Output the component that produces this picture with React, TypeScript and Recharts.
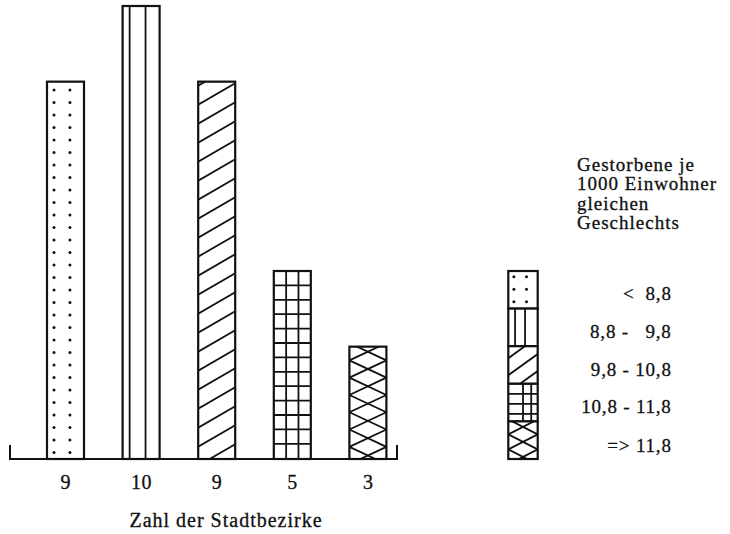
import React from 'react';
import { BarChart, Bar, XAxis, YAxis, Legend, Customized } from 'recharts';

// ---- data ----
const districtCounts = ['9', '10', '9', '5', '3'];
const barHeights = [8.33, 10, 8.33, 4.15, 2.48];
const classPatterns = ['dots', 'vertical', 'diagonal', 'grid', 'cross'];
const classLabels = ['<  8,8', '8,8 -   9,8', '9,8 - 10,8', '10,8 - 11,8', '=> 11,8'];
const titleLines = ['Gestorbene je', '1000 Einwohner', 'gleichen', 'Geschlechts'];
const axisTitle = 'Zahl der Stadtbezirke';

const data = districtCounts.map((c, i) => ({ key: `c${i}`, count: c, value: barHeights[i], pattern: classPatterns[i] }));

const FONT = '"Liberation Serif", "DejaVu Serif", serif';
const INK = '#111';
const TEXT_STROKE = { stroke: INK, strokeWidth: 0.3 };

function patternMarks(kind: string, x: number, y: number, w: number, h: number, small: boolean) {
  const els: React.ReactNode[] = [];
  const sw = 1.8;
  if (kind === 'dots') {
    const step = 12.5;
    const cols = [x + w * 0.19, x + w * 0.62];
    for (let yy = y + (small ? 5.7 : 8.3); yy < y + h - 2; yy += step) {
      cols.forEach((cx, j) => els.push(<circle key={`d${yy}-${j}`} cx={cx} cy={yy} r={1.5} fill={INK} />));
    }
  } else if (kind === 'vertical') {
    const xs = small ? [x + w * 0.23, x + w * 0.57] : [x + w * 0.19, x + w * 0.62];
    xs.forEach((lx, j) => els.push(<line key={`v${j}`} x1={lx} y1={y} x2={lx} y2={y + h} stroke={INK} strokeWidth={sw} />));
  } else if (kind === 'diagonal') {
    const s = small ? 0.72 : 0.58;
    const sp = small ? 17 : 19;
    let k = 0;
    for (let ly = y + (small ? 12 : 4); ly < y + h + s * w + sp; ly += sp) {
      els.push(<line key={`g${k++}`} x1={x} y1={ly} x2={x + w} y2={ly - s * w} stroke={INK} strokeWidth={sw} />);
    }
  } else if (kind === 'grid') {
    const xs = small ? [x + w * 0.5, x + w * 0.78] : [x + w / 3, x + (2 * w) / 3];
    xs.forEach((lx, j) => els.push(<line key={`gv${j}`} x1={lx} y1={y} x2={lx} y2={y + h} stroke={INK} strokeWidth={sw} />));
    const sp = small ? 10 : 14.4;
    let k = 0;
    for (let ly = y + sp; ly < y + h - 1; ly += sp) {
      els.push(<line key={`gh${k++}`} x1={x} y1={ly} x2={x + w} y2={ly} stroke={INK} strokeWidth={sw} />);
    }
  } else if (kind === 'cross') {
    const p = small ? 15 : 17.3;
    const y0 = y + (small ? -2 : -3.6);
    let k = 0;
    for (let ly = y0 - p; ly < y + h + p; ly += p) {
      els.push(<line key={`xa${k}`} x1={x} y1={ly} x2={x + w} y2={ly + p} stroke={INK} strokeWidth={sw} />);
      els.push(<line key={`xb${k}`} x1={x} y1={ly} x2={x + w} y2={ly - p} stroke={INK} strokeWidth={sw} />);
      k++;
    }
  }
  return els;
}

function PatternBar(props: any) {
  const { x, y, width, height, index, payload } = props;
  if (width == null || height == null) return null;
  const id = `barclip-${index}`;
  return (
    <g>
      <defs>
        <clipPath id={id}>
          <rect x={x} y={y} width={width} height={height} />
        </clipPath>
      </defs>
      <rect x={x} y={y} width={width} height={height} fill="#fff" />
      <g clipPath={`url(#${id})`}>{patternMarks(payload.pattern, x, y, width, height, false)}</g>
      <rect x={x} y={y} width={width} height={height} fill="none" stroke={INK} strokeWidth={2.2} />
    </g>
  );
}

function CountTick(props: any) {
  const { x, y, payload } = props;
  return (
    <text x={x} y={y + 30} textAnchor="middle" fontFamily={FONT} fontSize={20} letterSpacing={0.5} fill={INK} {...TEXT_STROKE}>
      {payload.value}
    </text>
  );
}

function AxisDecor() {
  return (
    <g>
      <line x1={9} y1={459} x2={398} y2={459} stroke={INK} strokeWidth={2.2} />
      <line x1={10} y1={445} x2={10} y2={459} stroke={INK} strokeWidth={2} />
      <line x1={397} y1={445} x2={397} y2={459} stroke={INK} strokeWidth={2} />
      <text x={226} y={527} textAnchor="middle" fontFamily={FONT} fontSize={20} letterSpacing={1} fill={INK} {...TEXT_STROKE}>
        {axisTitle}
      </text>
    </g>
  );
}

function LegendContent() {
  const bx = 18.3;
  const bw = 29.4;
  const by = 131;
  const bh = 37.6;
  const labelBase = [160, 198.3, 236, 273.3, 311.7];
  return (
    <svg width={240} height={330} style={{ display: 'block' }}>
      {titleLines.map((t, i) => (
        <text key={t} x={87} y={30.5 + i * 19.6} fontFamily={FONT} fontSize={19} letterSpacing={1} fill={INK} {...TEXT_STROKE}>
          {t}
        </text>
      ))}
      <defs>
        {classPatterns.map((p, i) => (
          <clipPath id={`legclip-${i}`} key={p}>
            <rect x={bx} y={by + i * bh} width={bw} height={bh} />
          </clipPath>
        ))}
      </defs>
      {classPatterns.map((p, i) => (
        <g key={p}>
          <rect x={bx} y={by + i * bh} width={bw} height={bh} fill="#fff" />
          <g clipPath={`url(#legclip-${i})`}>{patternMarks(p, bx, by + i * bh, bw, bh, true)}</g>
          <rect x={bx} y={by + i * bh} width={bw} height={bh} fill="none" stroke={INK} strokeWidth={2.2} />
        </g>
      ))}
      {classLabels.map((l, i) => (
        <text key={l} x={181.7} y={labelBase[i]} textAnchor="end" fontFamily={FONT} fontSize={19} letterSpacing={0.8}
          fill={INK} {...TEXT_STROKE} style={{ whiteSpace: 'pre' }}>
          {l}
        </text>
      ))}
    </svg>
  );
}

export default function App() {
  return (
    <div style={{ position: 'absolute', left: 0, top: 0, width: 730, height: 534, background: '#fff' }}>
      <BarChart width={730} height={534} data={data} margin={{ top: 6, right: 84, bottom: 0, left: 9 }}>
        <XAxis dataKey="key" height={75} axisLine={false} tickLine={false} tickSize={0} tickMargin={0}
          padding={{ left: 19, right: 0 }} interval={0}
          tick={(p: any) => <CountTick {...p} payload={{ value: districtCounts[p.index] }} />} />
        <YAxis hide domain={[0, 10]} />
        <Bar dataKey="value" barSize={37} shape={PatternBar} isAnimationActive={false} />
        <Customized component={AxisDecor} />
        <Legend content={LegendContent} layout="vertical" align="right" verticalAlign="middle" width={240}
          wrapperStyle={{ position: 'absolute', left: 490, top: 140, width: 240, height: 330, bottom: 'auto', right: 'auto' }} />
      </BarChart>
    </div>
  );
}
